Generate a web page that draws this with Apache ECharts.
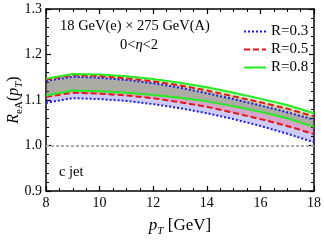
<!DOCTYPE html>
<html>
<head>
<meta charset="utf-8">
<script src="https://cdn.jsdelivr.net/npm/echarts@6/dist/echarts.min.js"></script>
<style>html,body{margin:0;padding:0;background:#fff}#c{width:324px;height:242px}</style>
</head>
<body>
<div id="c"></div>
<script>
const pT = [8, 9, 10, 11, 12, 13, 14, 15, 16, 17, 18];
const r03Upper = [1.142, 1.151, 1.149, 1.144, 1.137, 1.127, 1.115, 1.102, 1.088, 1.073, 1.057];
const r03Lower = [1.094, 1.104, 1.102, 1.098, 1.091, 1.082, 1.071, 1.058, 1.043, 1.026, 1.007];
const r05Upper = [1.145, 1.155, 1.153, 1.148, 1.141, 1.132, 1.121, 1.108, 1.095, 1.081, 1.064];
const r05Lower = [1.107, 1.116, 1.114, 1.110, 1.104, 1.095, 1.085, 1.072, 1.058, 1.043, 1.025];
const r08Upper = [1.147, 1.157, 1.156, 1.152, 1.146, 1.138, 1.128, 1.116, 1.103, 1.089, 1.071];
const r08Lower = [1.110, 1.121, 1.119, 1.116, 1.111, 1.105, 1.097, 1.086, 1.074, 1.060, 1.041];
const xTicks = [8, 10, 12, 14, 16, 18];
const yTicks = [0.9, 1.0, 1.1, 1.2, 1.3];
const legendNames = ['R=0.3', 'R=0.5', 'R=0.8'];

const FONT = 'Liberation Serif';
const pairs = ys => pT.map((x, i) => [x, ys[i]]);
const diffs = (up, lo) => pT.map((x, i) => +(up[i] - lo[i]).toFixed(4));

function band(id, lo, up, fill) {
  return [
    { type: 'line', name: id + 'base', stack: id, xAxisIndex: 2, data: lo.slice(), symbol: 'none',
      lineStyle: { opacity: 0 }, silent: true, z: 1 },
    { type: 'line', name: id + 'fill', stack: id, xAxisIndex: 2, data: diffs(up, lo), symbol: 'none',
      lineStyle: { opacity: 0 }, areaStyle: { color: fill, opacity: 1 }, silent: true, z: 1 }
  ];
}
function curve(name, ys, color, type) {
  return { type: 'line', name: name, data: pairs(ys), symbol: 'none', z: 3,
    lineStyle: { color: color, width: 2, type: type }, itemStyle: { color: color } };
}
const blue = '#1a1aee', red = '#ee1111', green = '#22ee22';
const dotted = [2, 2], dashed = [6, 3];

const axisCommon = {
  type: 'value', axisLine: { show: true, onZero: false, lineStyle: { color: '#000', width: 1.5 } },
  axisTick: { show: true, inside: true, length: 5, lineStyle: { color: '#000', width: 1.2 } },
  minorTick: { show: true, length: 3, lineStyle: { color: '#000', width: 1 } },
  splitLine: { show: false }
};

const option = {
  animation: false,
  grid: { left: 46, right: 8, top: 9, bottom: 45, containLabel: false },
  xAxis: [
    Object.assign({}, axisCommon, { min: xTicks[0], max: xTicks[xTicks.length - 1], interval: 2, position: 'bottom',
      minorTick: Object.assign({}, axisCommon.minorTick, { splitNumber: 4 }),
      axisLabel: { color: '#000', fontFamily: FONT, fontSize: 14, margin: 5 },
      name: '{i|p}{s|T} [GeV]', nameLocation: 'middle', nameGap: 24,
      nameTextStyle: { color: '#000', fontFamily: FONT, fontSize: 17,
        rich: { i: { fontStyle: 'italic', fontFamily: FONT, fontSize: 17, lineHeight: 22 },
                s: { fontStyle: 'italic', fontFamily: FONT, fontSize: 11, lineHeight: 12, verticalAlign: 'bottom' } } } }),
    Object.assign({}, axisCommon, { min: 8, max: 18, interval: 2, position: 'top',
      minorTick: Object.assign({}, axisCommon.minorTick, { splitNumber: 4 }), axisLabel: { show: false } }),
    { type: 'category', data: pT.map(String), boundaryGap: false, show: false }
  ],
  yAxis: [
    Object.assign({}, axisCommon, { min: yTicks[0], max: yTicks[yTicks.length - 1], interval: 0.1, position: 'left',
      minorTick: Object.assign({}, axisCommon.minorTick, { splitNumber: 5 }),
      axisLabel: { color: '#000', fontFamily: FONT, fontSize: 14, margin: 4, formatter: v => v.toFixed(1) } }),
    Object.assign({}, axisCommon, { min: 0.9, max: 1.3, interval: 0.1, position: 'right',
      minorTick: Object.assign({}, axisCommon.minorTick, { splitNumber: 5 }), axisLabel: { show: false } })
  ],
  legend: {
    data: legendNames, orient: 'vertical', left: 238, top: 19, itemWidth: 22, itemHeight: 14, itemGap: 3,
    itemStyle: { opacity: 0 },
    textStyle: { color: '#000', fontFamily: FONT, fontSize: 15 }, selectedMode: false
  },
  graphic: [
    { type: 'text', left: 60, top: 19, style: { text: '18 GeV(e) × 275 GeV(A)', fontFamily: FONT, fontSize: 14.5, fill: '#000' } },
    { type: 'text', left: 120, top: 38, style: { text: '0<{i|η}<2', fontFamily: FONT, fontSize: 14.5, fill: '#000',
        rich: { i: { fontStyle: 'italic', fontFamily: FONT, fontSize: 14.5 } } } },
    { type: 'text', left: 59, top: 165, style: { text: 'c jet', fontFamily: FONT, fontSize: 14.5, fill: '#000' } },
    { type: 'text', x: 14, y: 100, rotation: Math.PI / 2,
      style: { text: '{i|R}{s|eA}{n|(}{i|p}{si|T}{n|)}', align: 'center', verticalAlign: 'middle', fill: '#000',
        rich: { i: { fontStyle: 'italic', fontFamily: FONT, fontSize: 16, lineHeight: 22 },
                n: { fontFamily: FONT, fontSize: 16, lineHeight: 22 },
                s: { fontFamily: FONT, fontSize: 11, lineHeight: 12, verticalAlign: 'bottom' },
                si: { fontStyle: 'italic', fontFamily: FONT, fontSize: 11, lineHeight: 12, verticalAlign: 'bottom' } } } }
  ],
  series: [
    ...band('b03', r03Lower, r03Upper, 'rgba(0,0,255,0.2)'),
    ...band('b05', r05Lower, r05Upper, 'rgba(255,0,0,0.2)'),
    ...band('b08', r08Lower, r08Upper, 'rgba(0,200,0,0.2)'),
    Object.assign(curve('R=0.3', r03Upper, blue, dotted), {
      markLine: { silent: true, symbol: 'none', label: { show: false },
        lineStyle: { color: '#aaa', width: 2, type: [3, 2] }, data: [{ yAxis: 1.0 }] } }),
    curve('R=0.3 low', r03Lower, blue, dotted),
    curve('R=0.5', r05Upper, red, dashed),
    curve('R=0.5 low', r05Lower, red, dashed),
    curve('R=0.8', r08Upper, green, 'solid'),
    curve('R=0.8 low', r08Lower, green, 'solid')
  ]
};
echarts.init(document.getElementById('c')).setOption(option);
</script>
</body>
</html>
